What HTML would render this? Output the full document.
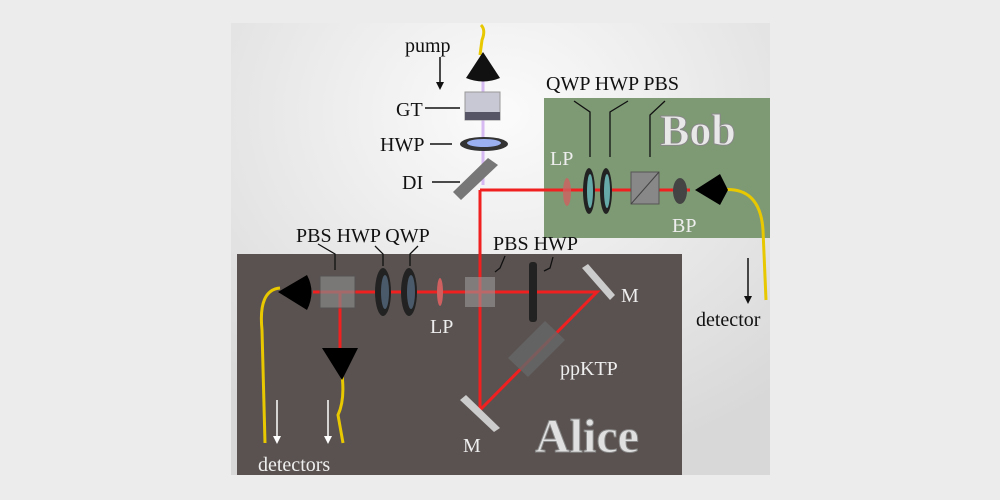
<!DOCTYPE html>
<html><head><style>
body{margin:0;width:1000px;height:500px;background:#ececec;overflow:hidden}
svg{display:block}
text{font-family:"Liberation Serif",serif;fill:#111}
</style></head><body>
<svg width="1000" height="500" viewBox="0 0 1000 500">
<defs>
<radialGradient id="bg" cx="0.5" cy="0.2" r="0.8"><stop offset="0" stop-color="#fbfbfb"/><stop offset="1" stop-color="#d8d8d8"/></radialGradient>
</defs>
<rect x="231" y="23" width="539" height="452" fill="url(#bg)"/>
<rect x="237" y="254" width="445" height="221" fill="#5a5250"/>
<rect x="544" y="98" width="226" height="140" fill="#7e9a74"/>
<text x="660" y="145" font-size="44" font-weight="bold" style="fill:#e8e8e8;stroke:#888;stroke-width:1">Bob</text>
<text x="535" y="452" font-size="48" font-weight="bold" style="fill:#e0e0e0;stroke:#888;stroke-width:1">Alice</text>
<path d="M481 25 Q486 30 482 40 L480 55" stroke="#e8c800" stroke-width="3" fill="none"/>
<path d="M720 190 Q760 185 763 230 L766 300" stroke="#e8c800" stroke-width="3" fill="none"/>
<path d="M280 288 Q258 290 262 330 L265 443" stroke="#e8c800" stroke-width="3" fill="none"/>
<path d="M342 375 Q345 400 338 415 L343 443" stroke="#e8c800" stroke-width="3" fill="none"/>
<line x1="483" y1="80" x2="483" y2="185" stroke="#c9a0f0" stroke-width="3" opacity="0.7"/>
<g stroke="#f02020" stroke-width="3" fill="none">
<polyline points="480,190 480,410 597,292 313,292"/>
<line x1="480" y1="190" x2="690" y2="190"/>
<line x1="340" y1="292" x2="340" y2="350"/>
</g>
<path d="M466 78 L483 52 L500 78 Q483 85 466 78Z" fill="#111"/>
<rect x="465" y="92" width="35" height="28" fill="#c8c8d4" stroke="#999"/>
<rect x="465" y="112" width="35" height="8" fill="#555566"/>
<ellipse cx="484" cy="144" rx="24" ry="7" fill="#333"/>
<ellipse cx="484" cy="143" rx="17" ry="4" fill="#9ab0f0"/>
<polygon points="453,192 488,158 498,165 461,200" fill="#777"/>
<ellipse cx="567" cy="192" rx="4" ry="14" fill="#d06060" opacity="0.8"/>
<ellipse cx="589" cy="191" rx="6" ry="23" fill="#222"/><ellipse cx="590" cy="191" rx="3" ry="17" fill="#6aa"/>
<ellipse cx="606" cy="191" rx="6" ry="23" fill="#222"/><ellipse cx="607" cy="191" rx="3" ry="17" fill="#6aa"/>
<rect x="631" y="172" width="28" height="32" fill="#888" stroke="#555"/>
<line x1="631" y1="204" x2="659" y2="172" stroke="#444"/>
<ellipse cx="680" cy="191" rx="7" ry="13" fill="#444"/>
<path d="M695 190 L720 174 L728 190 L720 205Z" fill="#000"/>
<path d="M278 292 L307 275 Q316 292 307 310Z" fill="#000"/>
<rect x="320" y="276" width="35" height="32" fill="#888" opacity="0.7" stroke="#555"/>
<ellipse cx="383" cy="292" rx="8" ry="24" fill="#222"/><ellipse cx="385" cy="292" rx="4" ry="17" fill="#4a5a6a"/>
<ellipse cx="409" cy="292" rx="8" ry="24" fill="#222"/><ellipse cx="411" cy="292" rx="4" ry="17" fill="#4a5a6a"/>
<ellipse cx="440" cy="292" rx="3" ry="14" fill="#d06060"/>
<rect x="465" y="277" width="30" height="30" fill="#999" opacity="0.6"/>
<rect x="529" y="262" width="8" height="60" rx="3" fill="#222"/>
<polygon points="582,268 588,264 615,295 610,300" fill="#ccc"/>
<polygon points="460,400 466,395 500,428 494,432" fill="#ccc"/>
<polygon points="508,358 545,321 565,340 528,377" fill="#666" opacity="0.85"/>
<path d="M322 348 L358 348 L342 380Z" fill="#000"/>
<g stroke="#111" stroke-width="1.5">
<line x1="440" y1="57" x2="440" y2="85"/>
<line x1="748" y1="258" x2="748" y2="298"/>
<line x1="425" y1="108" x2="460" y2="108"/>
<line x1="430" y1="144" x2="452" y2="144"/>
<line x1="432" y1="182" x2="460" y2="182"/>
</g>
<path d="M436 82 L440 90 L444 82Z" fill="#111"/>
<path d="M744 296 L748 304 L752 296Z" fill="#111"/>
<g stroke="#fff" stroke-width="1.5"><line x1="277" y1="400" x2="277" y2="440"/><line x1="328" y1="400" x2="328" y2="440"/></g>
<path d="M273 436 L277 444 L281 436Z M324 436 L328 444 L332 436Z" fill="#fff"/>
<g stroke="#111" stroke-width="1.3" fill="none">
<polyline points="574,101 590,112 590,157"/>
<polyline points="628,101 610,112 610,157"/>
<polyline points="665,101 650,115 650,157"/>
<polyline points="318,244 335,254 335,270"/>
<polyline points="375,246 383,254 383,266"/>
<polyline points="418,246 410,254 410,266"/>
<polyline points="505,256 500,268 495,272"/>
<polyline points="553,257 550,268 544,271"/>
</g>
<text x="405" y="52" font-size="20">pump</text>
<text x="396" y="116" font-size="20">GT</text>
<text x="380" y="151" font-size="20">HWP</text>
<text x="402" y="189" font-size="20">DI</text>
<text x="546" y="90" font-size="20">QWP HWP PBS</text>
<text x="550" y="165" font-size="20" style="fill:#eee">LP</text>
<text x="672" y="232" font-size="20" style="fill:#eee">BP</text>
<text x="696" y="326" font-size="20">detector</text>
<text x="296" y="242" font-size="20">PBS HWP QWP</text>
<text x="493" y="250" font-size="20">PBS HWP</text>
<text x="621" y="302" font-size="20" style="fill:#eee">M</text>
<text x="430" y="333" font-size="20" style="fill:#eee">LP</text>
<text x="560" y="375" font-size="20" style="fill:#eee">ppKTP</text>
<text x="463" y="452" font-size="20" style="fill:#eee">M</text>
<text x="258" y="471" font-size="20" style="fill:#eee">detectors</text>
</svg>
</body></html>
